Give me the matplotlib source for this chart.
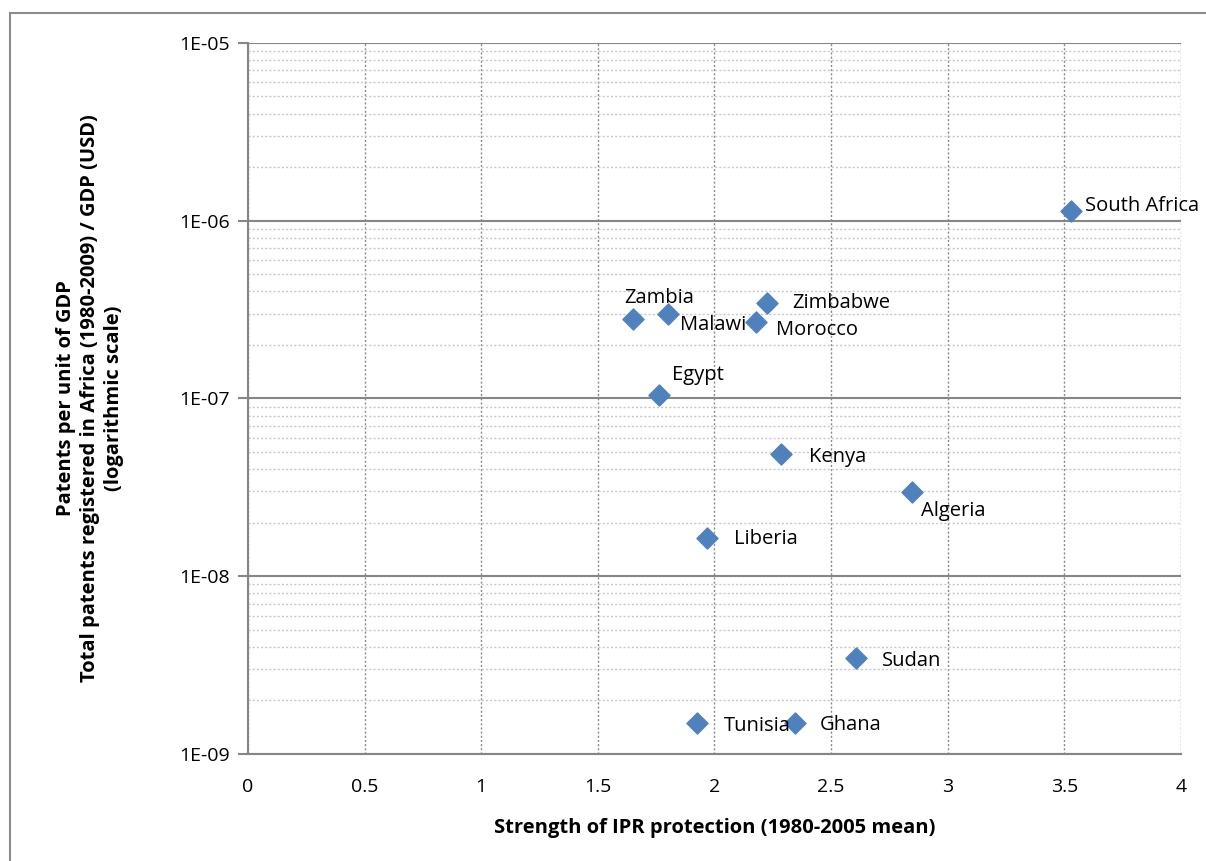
#!/usr/bin/env python3
"""
Patents per unit of GDP vs strength of IPR protection, African countries
"""
import matplotlib.pyplot as plt
from matplotlib.patches import Rectangle
from matplotlib.ticker import LogLocator, FixedLocator, NullFormatter

plt.rcParams['font.family'] = ['Open Sans', 'DejaVu Sans']

# data points (IPR index, patents / GDP)
countries = ['South Africa', 'Zimbabwe', 'Morocco', 'Zambia', 'Malawi', 'Egypt',
             'Kenya', 'Algeria', 'Liberia', 'Sudan', 'Tunisia', 'Ghana']
ipr = [3.53, 2.225, 2.18, 1.65, 1.80, 1.76, 2.285, 2.845, 1.97, 2.605, 1.925, 2.345]
patents = [1.13e-6, 3.45e-7, 2.70e-7, 2.80e-7, 3.00e-7, 1.05e-7,
           4.85e-8, 2.98e-8, 1.64e-8, 3.45e-9, 1.49e-9, 1.49e-9]

# label offsets in points (dx, dy)
label_pos = {
    'South Africa': (10, 4),
    'Zimbabwe': (18, 0),
    'Morocco': (14, -6),
    'Zambia': (-6, 15),
    'Malawi': (9, -8),
    'Egypt': (10, 14),
    'Kenya': (20, -2),
    'Algeria': (7, -14),
    'Liberia': (19, -1),
    'Sudan': (19, -2),
    'Tunisia': (19, -2),
    'Ghana': (18, -1),
}

fig = plt.figure(figsize=(12.06, 8.61), dpi=100)
ax = fig.add_axes([0.2056, 0.1243, 0.9793 - 0.2056, 0.9501 - 0.1243])

# outer chart border
fig.patches.append(Rectangle((10 / 1206, -0.1), 1.2, 1.1 - 13 / 861,
                             transform=fig.transFigure, fill=False,
                             edgecolor='#8c8c8c', linewidth=1.5, zorder=0))

ax.scatter(ipr, patents, marker='D', s=115, color='#4f81bd',
           edgecolors='#4f81bd', zorder=5)

for name, x, y in zip(countries, ipr, patents):
    dx, dy = label_pos[name]
    ax.annotate(name, (x, y), xytext=(dx, dy), textcoords='offset points',
                ha='left', va='center', fontsize=14.5, color='black', zorder=6)

ax.set_yscale('log')
ax.set_xlim(0, 4)
ax.set_ylim(1e-9, 1e-5)
ax.xaxis.set_major_locator(FixedLocator([0, 0.5, 1, 1.5, 2, 2.5, 3, 3.5, 4]))
ax.set_xticklabels(['0', '0.5', '1', '1.5', '2', '2.5', '3', '3.5', '4'])
ax.yaxis.set_major_locator(FixedLocator([1e-9, 1e-8, 1e-7, 1e-6, 1e-5]))
ax.set_yticklabels(['1E-09', '1E-08', '1E-07', '1E-06', '1E-05'])
ax.yaxis.set_minor_locator(LogLocator(base=10, subs=range(2, 10)))
ax.yaxis.set_minor_formatter(NullFormatter())

ax.tick_params(axis='both', labelsize=14)
ax.tick_params(axis='x', length=0, pad=17)
ax.tick_params(axis='y', which='major', length=7, color='#868686', width=1.5, pad=6)
ax.tick_params(axis='y', which='minor', length=0)

# grid lines
ax.grid(True, axis='y', which='major', color='#868686', linewidth=1.5, linestyle='-')
ax.grid(True, axis='y', which='minor', color='#c8c8c8', linewidth=1, linestyle=(0, (1.5, 1.5)))
ax.grid(True, axis='x', which='major', color='#8a8a8a', linewidth=1, linestyle=(0, (1.5, 1.5)))
ax.set_axisbelow(True)

for side in ['top', 'right']:
    ax.spines[side].set_visible(False)
for side in ['left', 'bottom']:
    ax.spines[side].set_color('#868686')
    ax.spines[side].set_linewidth(1.5)

ax.set_xlabel('Strength of IPR protection (1980-2005 mean)', fontsize=14.5,
              fontweight='bold', labelpad=16)
ax.set_ylabel('Patents per unit of GDP\n'
              'Total patents registered in Africa (1980-2009) / GDP (USD)\n'
              '(logarithmic scale)', fontsize=14.5, fontweight='bold', labelpad=40,
              linespacing=1.25)

fig.savefig('out.png', dpi=100)
